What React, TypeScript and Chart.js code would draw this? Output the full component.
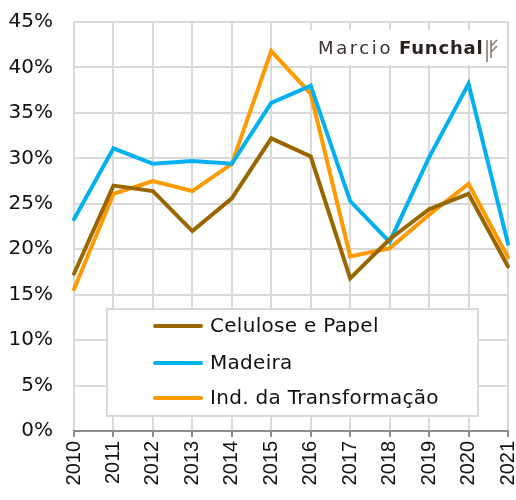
import React, { useEffect, useRef } from "react";
import { Chart, registerables } from "chart.js";

Chart.register(...registerables);

const years = ["2010","2011","2012","2013","2014","2015","2016","2017","2018","2019","2020","2021"];
const celulose = [17.3, 27.0, 26.4, 22.0, 25.6, 32.2, 30.2, 16.8, 21.1, 24.4, 26.1, 18.1];
const madeira = [23.3, 31.1, 29.4, 29.7, 29.4, 36.1, 38.0, 25.3, 20.8, 30.1, 38.2, 20.6];
const transformacao = [15.6, 26.1, 27.5, 26.4, 29.4, 41.8, 37.1, 19.2, 20.1, 23.8, 27.2, 19.1];
const seriesNames = ["Celulose e Papel", "Madeira", "Ind. da Transformação"];
const seriesColors = ["#996600", "#00B0F0", "#FF9900"];
const logoWords = ["Marcio", "Funchal"];

const overlayPlugin = {
  id: "overlays",
  beforeDatasetsDraw(chart: any) {
    const ctx = chart.ctx as CanvasRenderingContext2D;
    ctx.save();
    // logo box
    ctx.fillStyle = "#ffffff";
    ctx.fillRect(302, 30, 203, 35);
    ctx.textBaseline = "alphabetic";
    ctx.textAlign = "left";
    (ctx as any).letterSpacing = "2.6px";
    ctx.font = "18px 'DejaVu Sans'";
    ctx.fillStyle = "#3a302d";
    ctx.fillText(logoWords[0], 318, 54);
    (ctx as any).letterSpacing = "0.8px";
    ctx.font = "bold 18px 'DejaVu Sans'";
    ctx.fillStyle = "#2b2220";
    ctx.fillText(logoWords[1], 399, 54);
    // icon
    ctx.strokeStyle = "#8c7b72";
    ctx.lineWidth = 1.6;
    ctx.beginPath();
    ctx.moveTo(487, 40); ctx.lineTo(487, 62);
    ctx.moveTo(491, 40); ctx.lineTo(491, 58);
    ctx.moveTo(491, 46); ctx.lineTo(497, 40);
    ctx.moveTo(491, 52); ctx.lineTo(497, 46);
    ctx.stroke();
    (ctx as any).letterSpacing = "0px";

    // legend box
    ctx.fillStyle = "#ffffff";
    ctx.fillRect(107, 309, 371, 107);
    ctx.strokeStyle = "#d9d9d9";
    ctx.lineWidth = 2;
    ctx.strokeRect(107, 309, 371, 107);
    const rows = [326, 363, 398];
    chart.data.datasets.forEach((ds: any, i: number) => {
      const y = rows[i];
      ctx.strokeStyle = ds.borderColor;
      ctx.lineWidth = 4;
      ctx.lineCap = "round";
      ctx.beginPath();
      ctx.moveTo(155, y);
      ctx.lineTo(201, y);
      ctx.stroke();
      ctx.fillStyle = "#111111";
      ctx.font = "20px 'DejaVu Sans'";
      (ctx as any).letterSpacing = "0.3px";
      ctx.textBaseline = "middle";
      ctx.fillText(ds.label, 210, y + 1);
    });
    ctx.restore();
  },
};

export default function App() {
  const ref = useRef<HTMLCanvasElement | null>(null);
  useEffect(() => {
    if (!ref.current) return;
    const datasetsValues = [celulose, madeira, transformacao];
    const chart = new Chart(ref.current, {
      type: "line",
      data: {
        labels: years,
        datasets: datasetsValues.map((vals, i) => ({
          label: seriesNames[i],
          data: vals,
          borderColor: seriesColors[i],
          backgroundColor: seriesColors[i],
          borderWidth: 4,
          pointRadius: 0,
          tension: 0,
          borderCapStyle: "round" as const,
          clip: 6,
        })),
      },
      options: {
        animation: false,
        responsive: false,
        layout: { padding: { top: 22, left: 0, right: 8, bottom: 0 } },
        plugins: { legend: { display: false }, tooltip: { enabled: false } },
        scales: {
          x: {
            offset: false,
            grid: { color: "#d9d9d9", lineWidth: 2, tickColor: "#8c8c8c", tickLength: 6, drawOnChartArea: true },
            border: { color: "#8c8c8c", width: 2 },
            ticks: {
              minRotation: 90,
              maxRotation: 90,
              padding: 4,
              color: "#111111",
              font: { family: "'Liberation Sans', Arial", size: 20 },
              autoSkip: false,
            },
            afterFit(scale: any) {
              scale.height = 69;
              scale.paddingLeft = 0;
              scale.paddingRight = 0;
            },
          },
          y: {
            min: 0,
            max: 45,
            grid: { color: "#d9d9d9", lineWidth: 2, drawTicks: false },
            border: { display: false },
            ticks: {
              stepSize: 5,
              padding: 21,
              color: "#111111",
              font: { family: "'DejaVu Sans'", size: 20 },
              callback: (v: any) => v + "%",
            },
            afterFit(scale: any) {
              scale.width = 74;
              scale.paddingTop = 0;
              scale.paddingBottom = 0;
            },
          },
        },
      },
      plugins: [overlayPlugin],
    });
    return () => chart.destroy();
  }, []);
  return (
    <div style={{ position: "absolute", left: 0, top: 0, width: 516, height: 500 }}>
      <canvas ref={ref} width={516} height={500} style={{ display: "block" }} />
    </div>
  );
}
